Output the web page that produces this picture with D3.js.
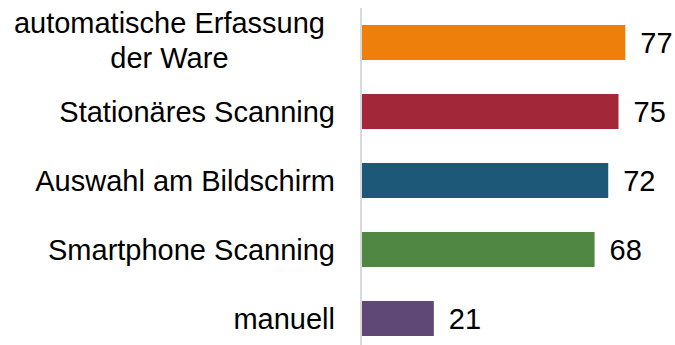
<!DOCTYPE html>
<html>
<head>
<meta charset="utf-8">
<script src="https://cdn.jsdelivr.net/npm/d3@7"></script>
<style>
  html, body { margin: 0; padding: 0; background: #ffffff; }
  svg { display: block; }
</style>
</head>
<body>
<svg id="chart" width="675" height="345"></svg>
<script>
const categories = [
  ["automatische Erfassung", "der Ware"],
  ["Stationäres Scanning"],
  ["Auswahl am Bildschirm"],
  ["Smartphone Scanning"],
  ["manuell"]
];
const values = [77, 75, 72, 68, 21];
const colors = ["#EF7F0B", "#A22839", "#1E5878", "#4F8743", "#5F4876"];

const W = 675, H = 345;
const fontSize = 29;
const fontFamily = "'Liberation Sans', Arial, Helvetica, sans-serif";
const axisX = 361;

const svg = d3.select("#chart");

const ids = categories.map((c, i) => i);

const x = d3.scaleLinear().domain([0, 100]).range([362, 362 + 342]);
const y = d3.scaleBand().domain(ids).range([8, 353]).paddingInner(0.493).paddingOuter(0.2465);

// bars
svg.append("g").selectAll("rect")
  .data(ids)
  .join("rect")
  .attr("x", x(0))
  .attr("y", i => y(i))
  .attr("width", i => x(values[i]) - x(0))
  .attr("height", y.bandwidth())
  .attr("fill", i => colors[i]);

// axis line
svg.append("line")
  .attr("x1", axisX).attr("x2", axisX)
  .attr("y1", 8).attr("y2", H)
  .attr("stroke", "#d9d9d9")
  .attr("stroke-width", 2);

// category labels
const capH = 0.716 * fontSize;
const lineH = 35;
const labelRight = 335;
const lg = svg.append("g")
  .attr("font-family", fontFamily)
  .attr("font-size", fontSize)
  .attr("fill", "#000");

ids.forEach(i => {
  const lines = categories[i];
  const cy = y(i) + y.bandwidth() / 2;
  if (lines.length === 1) {
    lg.append("text")
      .attr("x", labelRight)
      .attr("y", cy + capH / 2)
      .attr("text-anchor", "end")
      .text(lines[0]);
  } else {
    const t = lg.append("text").attr("text-anchor", "middle");
    const tmp = lg.append("text").text(lines[0]);
    const w = tmp.node().getComputedTextLength();
    tmp.remove();
    const cx = labelRight - 10 - w / 2;
    lines.forEach((ln, k) => {
      t.append("tspan")
        .attr("x", cx)
        .attr("y", cy - (lines.length - 1) * lineH / 2 + k * lineH + capH / 2 - 2)
        .text(ln);
    });
  }
});

// value labels
svg.append("g")
  .attr("font-family", fontFamily)
  .attr("font-size", fontSize)
  .attr("fill", "#000")
  .selectAll("text")
  .data(ids)
  .join("text")
  .attr("x", i => x(values[i]) + 15)
  .attr("y", i => y(i) + y.bandwidth() / 2 + capH / 2)
  .text(i => values[i]);
</script>
</body>
</html>
